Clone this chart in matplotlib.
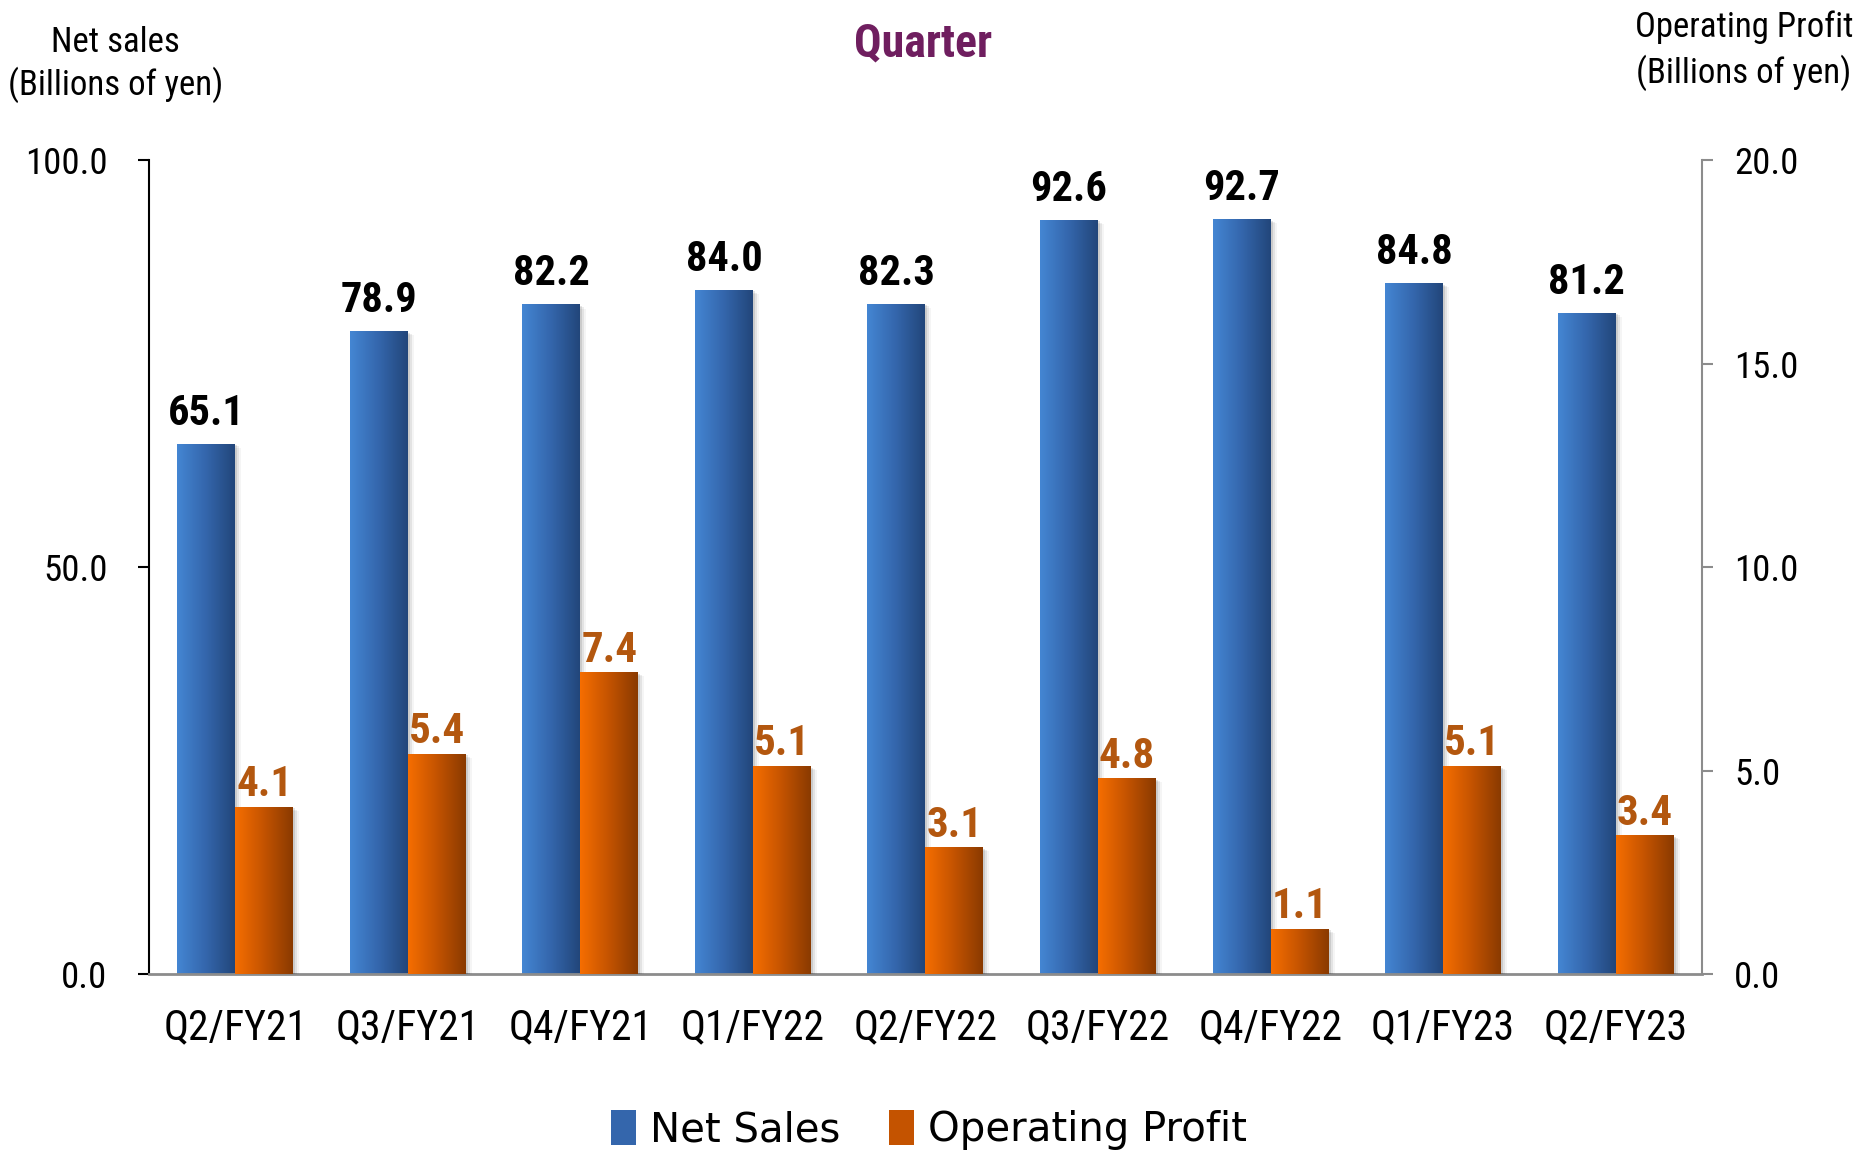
import matplotlib
matplotlib.use('Agg')
import matplotlib.pyplot as plt
import numpy as np
from matplotlib.colors import LinearSegmentedColormap
from matplotlib.patches import Patch
import matplotlib.transforms as mtransforms

# narrow sans first, plain sans as fallback
plt.rcParams['font.family'] = ['Roboto Condensed', 'Archivo Narrow', 'Liberation Sans', 'DejaVu Sans']

# Data
quarters = ['Q2/FY21', 'Q3/FY21', 'Q4/FY21', 'Q1/FY22', 'Q2/FY22',
            'Q3/FY22', 'Q4/FY22', 'Q1/FY23', 'Q2/FY23']
net_sales = [65.1, 78.9, 82.2, 84.0, 82.3, 92.6, 92.7, 84.8, 81.2]
op_profit = [4.1, 5.4, 7.4, 5.1, 3.1, 4.8, 1.1, 5.1, 3.4]

blue_cmap = LinearSegmentedColormap.from_list('blue', ['#4486D3', '#3466AC', '#22467A'])
orange_cmap = LinearSegmentedColormap.from_list('orange', ['#F66E00', '#C45300', '#8A3A00'])
grad = np.linspace(0, 1, 256).reshape(1, -1)

fig = plt.figure(figsize=(18.58, 11.52), dpi=100)
ax = fig.add_axes([0.0802, 0.1545, 0.8358, 0.7066])
ax2 = ax.twinx()

x = np.arange(len(quarters))
w = 0.336


def gradient_bars(axis, bars, cmap, ylim):
    for b in bars:
        x0, h, bw = b.get_x(), b.get_height(), b.get_width()
        # soft shadow
        for k, a in zip([2, 4, 6], [0.10, 0.07, 0.04]):
            off = mtransforms.offset_copy(axis.transData, fig=fig, x=k, y=-k * 0.6, units='dots')
            axis.add_patch(plt.Rectangle((x0, 0), bw, h, transform=off,
                                         facecolor='black', alpha=a, lw=0, zorder=1))
        axis.imshow(grad, extent=[x0, x0 + bw, 0, h], aspect='auto', cmap=cmap,
                    zorder=2, interpolation='bilinear')
        b.set_visible(False)
    axis.set_xlim(-0.5, len(quarters) - 0.5)
    axis.set_ylim(*ylim)


bars1 = ax.bar(x - w / 2, net_sales, w, color='#3466AC')
bars2 = ax2.bar(x + w / 2, op_profit, w, color='#C45300')
gradient_bars(ax, bars1, blue_cmap, (0, 100))
gradient_bars(ax2, bars2, orange_cmap, (0, 20))

for xi, v in zip(x, net_sales):
    ax.annotate(f'{v:.1f}', (xi - w / 2, v), xytext=(0, 14), textcoords='offset points',
                ha='center', va='baseline', fontsize=30.5, fontweight='bold', color='black')
for xi, v in zip(x, op_profit):
    ax2.annotate(f'{v:.1f}', (xi + w / 2, v), xytext=(0, 8), textcoords='offset points',
                 ha='center', va='baseline', fontsize=31, fontweight='bold', color='#B3570F')

# Axes styling
ax.set_yticks([0, 50, 100])
ax.set_yticklabels(['0.0', '50.0', '100.0'])
ax2.set_yticks([0, 5, 10, 15, 20])
ax2.set_yticklabels(['0.0', '5.0', '10.0', '15.0', '20.0'])
ax.set_xticks(x)
ax.set_xticklabels(quarters)

for a in (ax, ax2):
    a.spines['top'].set_visible(False)
ax.spines['right'].set_visible(False)
ax2.spines['left'].set_visible(False)
ax2.spines['bottom'].set_visible(False)
ax.spines['left'].set_color('black')
ax.spines['left'].set_linewidth(1.5)
ax2.spines['right'].set_color('#8C8C8C')
ax2.spines['right'].set_linewidth(1.5)
ax.spines['bottom'].set_color('#8C8C8C')
ax.spines['bottom'].set_linewidth(2)

ax.tick_params(axis='y', length=8, width=1.5, color='black', labelsize=26.5, pad=22)
ax2.tick_params(axis='y', length=8, width=1.5, color='#8C8C8C', labelsize=26.5, pad=15)
ax.tick_params(axis='x', length=0, labelsize=30, pad=24)

# Titles
fig.text(0.497, 0.962, 'Quarter', ha='center', va='center', fontsize=33,
         fontweight='bold', color='#6F1E5F')
fig.text(0.062, 0.944, 'Net sales\n(Billions of yen)', ha='center', va='center',
         fontsize=25, linespacing=1.28)
fig.text(0.9386, 0.956, 'Operating Profit\n(Billions of yen)', ha='center', va='center',
         fontsize=25, linespacing=1.36)

handles = [Patch(facecolor='#3466AC', label='Net Sales'),
           Patch(facecolor='#C45300', label='Operating Profit')]
fig.legend(handles=handles, loc='center', bbox_to_anchor=(0.5, 0.019), ncol=2,
           frameon=False, prop={'family': 'DejaVu Sans', 'size': 29},
           handlelength=0.62, handleheight=0.95, handletextpad=0.35, columnspacing=1.2)

fig.savefig('out.png', dpi=100)
